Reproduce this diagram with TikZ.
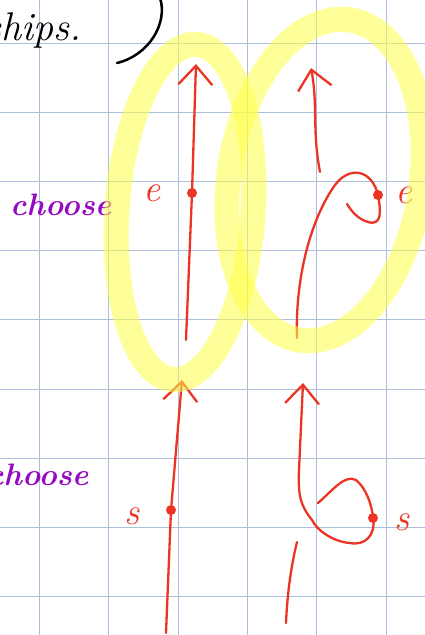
\documentclass[tikz,border=0pt]{standalone}
\usepackage{tikz}
\usetikzlibrary{arrows.meta,positioning}
\definecolor{gridblue}{RGB}{172,192,222}
\definecolor{inkred}{RGB}{236,52,36}
\definecolor{inkpurple}{RGB}{150,10,195}
\definecolor{marker}{RGB}{255,255,70}

\begin{document}
\begin{tikzpicture}[x=1pt, y=-1pt,
  ink/.style={inkred, line width=2.3pt, line cap=round, line join=round},
  pen arrow/.style={ink, -{Straight Barb[length=19pt, width=34pt]}},
  dot/.style={circle, fill=inkred, inner sep=0pt, minimum size=10pt},
  letter/.style={inkred, font=\fontsize{38}{38}\selectfont\itshape, inner sep=0pt},
  word/.style={inkpurple, font=\fontsize{31}{31}\selectfont\bfseries\itshape, inner sep=0pt, anchor=base west},
  highlight/.style={marker, line width=25pt, opacity=0.55}
]
  \useasboundingbox (0,0) rectangle (425,635);
  \fill[white] (0,0) rectangle (425,635);

  % squared paper
  \foreach \i in {0,...,5}
    \draw[gridblue, line width=1pt] ({39.5+69.3*\i},0) -- ({39.5+69.3*\i},635);
  \foreach \j in {0,...,8}
    \draw[gridblue, line width=1pt] (0,{43.5+69.1*\j}) -- (425,{43.5+69.1*\j});

  % end of the previous line
  \node[font=\fontsize{40}{40}\selectfont\itshape, anchor=base west, inner sep=0pt] (ships) at (-15,40) {ships.};
  \draw[black, line width=2.5pt, line cap=round] (160,-2) .. controls (168,22) and (150,55) .. (117,63);

  % purple words
  \node[word] (choose1) at (10,215) {choose};
  \node[word] (choose2) at (-13,485) {choose};

  % top left: straight path through e
  \coordinate (a0) at (186,340);
  \node[dot] (e1) at (192,193) {};
  \coordinate (a1) at (196,64);
  \draw[pen arrow] (a0) -- (e1.center) -- (a1);
  \node[letter, left=26pt of e1] (le1) {e};

  % top right: path with a kink at e
  \coordinate (b0) at (320,172);
  \coordinate (b1) at (311,68);
  \draw[pen arrow] (b0) .. controls (312,130) and (318,105) .. (b1);
  \coordinate (c0) at (297,338);
  \node[dot] (e2) at (378,195) {};
  \coordinate (c1) at (347,204);
  \draw[ink] (c0) .. controls (295,280) and (310,220) .. (335,185)
    .. controls (350,165) and (372,170) .. (e2.center)
    .. controls (381,212) and (382,226) .. (368,222)
    .. controls (358,219) and (352,212) .. (c1);
  \node[letter, right=12pt of e2] (le2) {e};

  % bottom left: straight path through s
  \coordinate (d0) at (166,633);
  \node[dot] (s1) at (171,510) {};
  \coordinate (d1) at (182,380);
  \draw[pen arrow] (d0) -- (s1.center) -- (d1);
  \node[letter, left=26pt of s1, yshift=-6pt] (ls1) {s};

  % bottom right: path with a loop at s
  \coordinate (f0) at (318,503);
  \node[dot] (s2) at (373,518) {};
  \coordinate (f1) at (303,383);
  \draw[pen arrow] (f0) .. controls (333,490) and (345,474) .. (356,480)
    .. controls (366,488) and (372,505) .. (s2.center)
    .. controls (376,535) and (365,546) .. (350,543)
    .. controls (335,542) and (318,532) .. (312,520)
    .. controls (300,505) and (298,495) .. (299,470) -- (f1);
  \coordinate (g0) at (297,542);
  \coordinate (g1) at (286,623);
  \draw[ink] (g0) .. controls (290,570) and (287,600) .. (g1);
  \node[letter, right=16pt of s2, yshift=-4pt] (ls2) {s};

  % yellow marker rings
  \draw[highlight] (185,212) ellipse [x radius=68, y radius=168, rotate=-4];
  \draw[highlight] (325,180) ellipse [x radius=96, y radius=162, rotate=-9];
\end{tikzpicture}
\end{document}
